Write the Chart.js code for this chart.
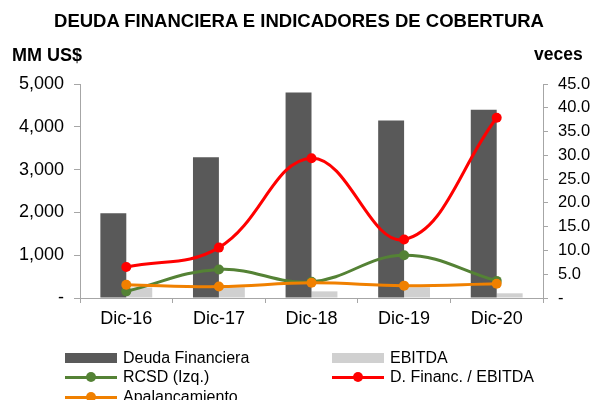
<!DOCTYPE html>
<html>
<head>
<meta charset="utf-8"/>
<title>Deuda Financiera</title>
<style>
  body { margin: 0; background: #fff; overflow: hidden; font-family: "Liberation Sans", Arial, sans-serif; }
  #wrap { position: relative; width: 597px; height: 400px; overflow: hidden; }
  #chart { position: absolute; left: 0; top: 0; }
  .lbl { position: absolute; font-weight: bold; color: #000; white-space: nowrap; line-height: 1; }
  .leg { position: absolute; font-size: 16px; color: #000; white-space: nowrap; line-height: 1; }
  .leg .mk { position: absolute; left: 0; top: 50%; }
  .leg .tx { position: absolute; top: -8px; }
</style>
</head>
<body>
<div id="wrap">
  <canvas id="chart" width="597" height="400"></canvas>
  <div class="lbl" style="left:0; width:598px; text-align:center; top:12px; font-size:18.5px;">DEUDA FINANCIERA E INDICADORES DE COBERTURA</div>
  <div class="lbl" style="left:12px; top:46px; font-size:18px;">MM US$</div>
  <div class="lbl" style="left:534px; top:46px; font-size:17.5px;">veces</div>
  <div id="legend"></div>
</div>

<script src="https://cdn.jsdelivr.net/npm/chart.js"></script>
<script>
// data
const periods = ['Dic-16', 'Dic-17', 'Dic-18', 'Dic-19', 'Dic-20'];
const deudaFinanciera = [1980, 3290, 4800, 4150, 4400];   // MM US$
const ebitda = [245, 250, 155, 250, 110];                 // MM US$
const rcsd = [1.4, 6.0, 3.4, 9.0, 3.6];                   // veces
const deudaSobreEbitda = [6.5, 10.6, 29.4, 12.3, 37.9];   // veces
const apalancamiento = [2.8, 2.4, 3.2, 2.6, 3.0];         // veces

const font = 'Liberation Sans';
const axisGrey = '#a6a6a6';

function lineSet(label, data, color) {
    return {
        type: 'line',
        label: label,
        data: data,
        yAxisID: 'y1',
        borderColor: color,
        backgroundColor: color,
        borderWidth: 3,
        pointRadius: 5,
        pointHoverRadius: 5,
        pointBorderWidth: 0,
        tension: 0.4,
        fill: false,
        order: 1
    };
}

const datasets = [
    { type: 'bar', label: 'Deuda Financiera', data: deudaFinanciera, yAxisID: 'y',
      backgroundColor: '#595959', categoryPercentage: 0.56, barPercentage: 1, order: 5 },
    { type: 'bar', label: 'EBITDA', data: ebitda, yAxisID: 'y',
      backgroundColor: '#d0d0d0', categoryPercentage: 0.56, barPercentage: 1, order: 5 },
    lineSet('RCSD (Izq.)', rcsd, '#548235'),
    lineSet('D. Financ. / EBITDA', deudaSobreEbitda, '#ff0000'),
    lineSet('Apalancamiento', apalancamiento, '#f08000')
];
// Apalancamiento drawn on top of RCSD
datasets[3].order = 2;
datasets[2].order = 3;

const chart = new Chart(document.getElementById('chart'), {
    type: 'bar',
    data: { labels: periods, datasets: datasets },
    options: {
        responsive: false,
        devicePixelRatio: 1,
        animation: false,
        layout: { padding: { top: 84, bottom: 64, left: 0, right: 0 } },
        plugins: { legend: { display: false }, tooltip: { enabled: false } },
        scales: {
            x: {
                grid: { display: true, drawOnChartArea: false, tickLength: 5, color: axisGrey, offset: true },
                border: { color: axisGrey, width: 1 },
                ticks: { color: '#000', font: { family: font, size: 18 }, padding: 5, maxRotation: 0 },
                afterFit: function (s) { s.height = 38; }
            },
            y: {
                position: 'left',
                min: 0, max: 5000,
                grid: { display: true, drawOnChartArea: false, tickLength: 6, color: axisGrey },
                border: { color: axisGrey, width: 1 },
                ticks: {
                    stepSize: 1000, color: '#000', padding: 10, autoSkip: false,
                    font: { family: font, size: 18 },
                    callback: function (v) { return v === 0 ? '-' : v.toLocaleString('en-US'); }
                },
                afterFit: function (s) { s.width = 80; }
            },
            y1: {
                position: 'right',
                min: 0, max: 45,
                grid: { display: true, drawOnChartArea: false, tickLength: 5, color: axisGrey },
                border: { color: axisGrey, width: 1 },
                ticks: {
                    stepSize: 5, color: '#000', padding: 10, autoSkip: false,
                    font: { family: font, size: 16.5 },
                    callback: function (v) { return v === 0 ? '-' : v.toFixed(1); }
                },
                afterFit: function (s) { s.width = 54; }
            }
        }
    }
});

// html legend, two columns like the original
const legendPos = [
    { x: 65, y: 358 }, { x: 332, y: 358 },
    { x: 65, y: 377 }, { x: 332, y: 377 },
    { x: 65, y: 397 }
];
const legend = document.getElementById('legend');
chart.data.datasets.forEach(function (ds, i) {
    const p = legendPos[i];
    const item = document.createElement('div');
    item.className = 'leg';
    item.style.left = p.x + 'px';
    item.style.top = p.y + 'px';
    let mk;
    if (ds.type === 'bar') {
        mk = '<span class="mk" style="width:52px;height:10px;margin-top:-5px;background:' + ds.backgroundColor + '"></span>';
    } else {
        mk = '<span class="mk" style="width:52px;height:3px;margin-top:-1.5px;background:' + ds.borderColor + '"></span>' +
             '<span class="mk" style="left:21px;width:10px;height:10px;margin-top:-5px;border-radius:50%;background:' + ds.borderColor + '"></span>';
    }
    item.innerHTML = mk + '<span class="tx" style="left:58px">' + ds.label + '</span>';
    legend.appendChild(item);
});
</script>
</body>
</html>
